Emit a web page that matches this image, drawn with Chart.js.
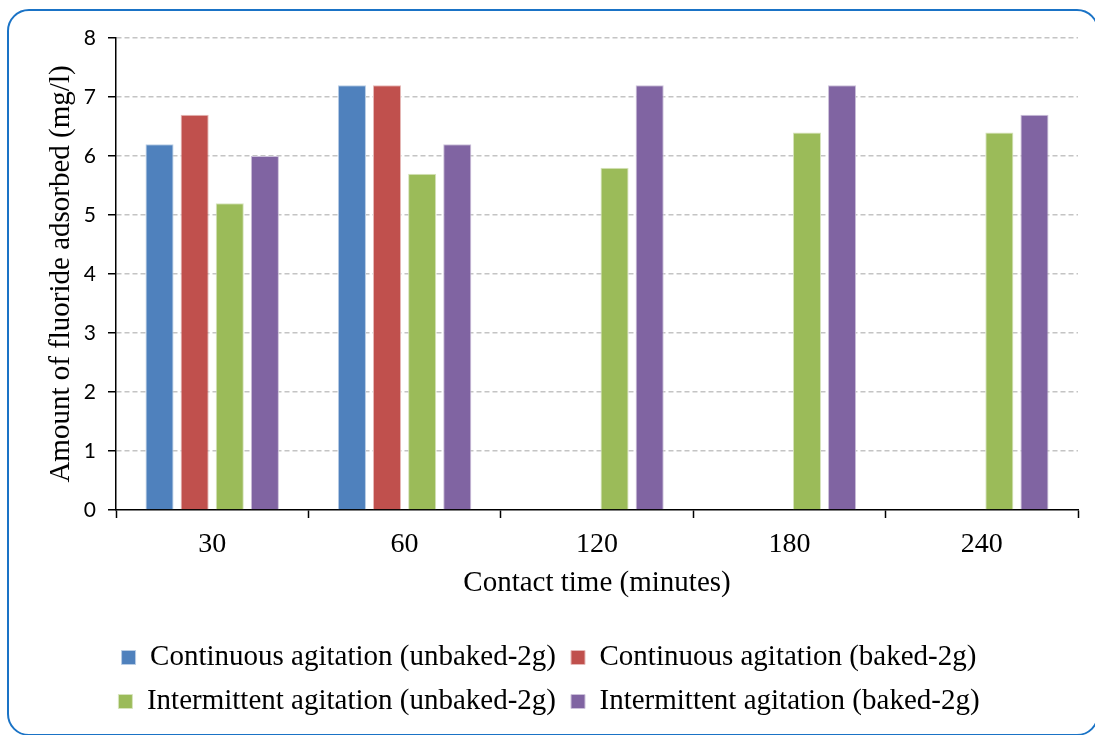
<!DOCTYPE html>
<html>
<head>
<meta charset="utf-8">
<script src="https://cdn.jsdelivr.net/npm/chart.js@4/dist/chart.umd.min.js"></script>
<style>
  html, body { margin: 0; padding: 0; background: #fff; overflow: hidden; }
  #wrap { position: relative; width: 1095px; height: 735px; }
  #frame {
    position: absolute; left: 7px; top: 9px; width: 1092px; height: 727px;
    border: 2px solid #1a73c6; border-radius: 22px; box-sizing: border-box;
    pointer-events: none;
  }
  #c { position: absolute; left: 0; top: 0; }
</style>
</head>
<body>
<div id="wrap">
  <canvas id="c" width="1095" height="735"></canvas>
  <div id="frame"></div>
</div>
<script>
// Contact time categories (minutes)
const contactTimes = ['30', '60', '120', '180', '240'];

// Amount of fluoride adsorbed (mg/l) per series
const contUnbaked = [6.2, 7.2, null, null, null];
const contBaked   = [6.7, 7.2, null, null, null];
const interUnbaked = [5.2, 5.7, 5.8, 6.4, 6.4];
const interBaked   = [6.0, 6.2, 7.2, 7.2, 6.7];

const seriesNames = [
  'Continuous agitation (unbaked-2g)',
  'Continuous agitation (baked-2g)',
  'Intermittent agitation (unbaked-2g)',
  'Intermittent agitation (baked-2g)'
];

const yTicks = [0, 1, 2, 3, 4, 5, 6, 7, 8];

const serif = '"Liberation Serif", "Times New Roman", serif';

function ds(label, data, fill, edge) {
  return {
    label, data,
    backgroundColor: fill,
    borderColor: edge,
    borderWidth: 1,
    categoryPercentage: 0.73,
    barPercentage: 0.8
  };
}

// Nudge the legend block a little to the left of the full-width box
const legendShift = {
  id: 'legendShift',
  afterLayout(chart) {
    const lg = chart.legend;
    if (lg) { lg.left -= 12; lg.right -= 12; }
  }
};

new Chart(document.getElementById('c'), {
  type: 'bar',
  data: {
    labels: contactTimes,
    datasets: [
      ds(seriesNames[0], contUnbaked, '#4F81BD', '#b9cde5'),
      ds(seriesNames[1], contBaked, '#C0504D', '#e6b9b8'),
      ds(seriesNames[2], interUnbaked, '#9BBB59', '#d7e4bd'),
      ds(seriesNames[3], interBaked, '#8064A2', '#ccc1da')
    ]
  },
  plugins: [legendShift],
  options: {
    responsive: false,
    animation: false,
    layout: { padding: { left: 44, right: 17, top: 38, bottom: 9 } },
    plugins: {
      tooltip: { enabled: false },
      legend: {
        position: 'bottom',
        labels: {
          color: '#000',
          font: { family: serif, size: 29 },
          boxWidth: 14,
          boxHeight: 14,
          padding: 15
        }
      }
    },
    scales: {
      x: {
        offset: true,
        afterFit: (s) => { s.height = 118; },
        grid: {
          offset: true,
          drawOnChartArea: false,
          drawTicks: true,
          tickLength: 8,
          tickColor: '#000',
          tickWidth: 1.5
        },
        border: { display: true, color: '#000', width: 1.5 },
        ticks: {
          color: '#000',
          font: { family: serif, size: 28 },
          padding: 10
        },
        title: {
          display: true,
          text: 'Contact time (minutes)',
          color: '#000',
          font: { family: serif, size: 29 },
          padding: { top: 0, bottom: 27 }
        }
      },
      y: {
        min: 0,
        max: 8,
        afterBuildTicks: (s) => { s.ticks = yTicks.map(v => ({ value: v })); },
        afterFit: (s) => { s.width = 72; },
        grid: {
          color: (ctx) => ctx.tick && ctx.tick.value === 0 ? 'rgba(0,0,0,0)' : '#c4c4c4',
          lineWidth: 1.5,
          drawTicks: true,
          tickLength: 8,
          tickColor: '#000',
          tickWidth: 1.5,
          tickBorderDash: []
        },
        border: { display: true, color: '#000', width: 1.5, dash: [5, 3] },
        ticks: {
          color: '#000',
          font: { family: 'Lato, "Open Sans", sans-serif', size: 21 },
          padding: 12
        },
        title: {
          display: true,
          text: 'Amount of fluoride adsorbed (mg/l)',
          color: '#000',
          font: { family: serif, size: 29 },
          padding: { top: 0, bottom: 0 }
        }
      }
    }
  }
});
</script>
</body>
</html>
